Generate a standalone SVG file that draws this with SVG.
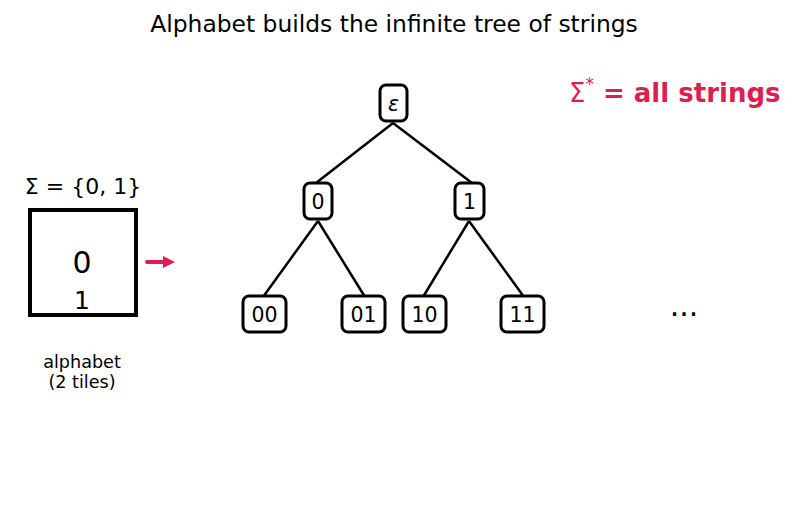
<svg xmlns="http://www.w3.org/2000/svg" width="796" height="510" viewBox="0 0 796 510">
<style>
text{font-family:"DejaVu Sans",sans-serif;fill:#000}
.node rect{fill:#fff;stroke:#000;stroke-width:3}
.node text{font-size:20.5px;text-anchor:middle;dominant-baseline:central}
.edges line{stroke:#000;stroke-width:2.5}
.edges line.arrow{stroke:#dc1f4f;stroke-width:4;stroke-linecap:round}
.red{fill:#dc1f4f}
</style>
<defs>
<marker id="ah" viewBox="0 0 10 10" refX="0" refY="5" markerWidth="3" markerHeight="3" orient="auto" markerUnits="strokeWidth">
<path d="M0,0 L10,5 L0,10 z" fill="#dc1f4f"/>
</marker>
</defs>
<rect width="796" height="510" fill="#fff"/>
<text x="394" y="32" font-size="23.4" text-anchor="middle">Alphabet builds the infinite tree of strings</text>

<g class="edges">
<line x1="393" y1="123" x2="316" y2="183"/>
<line x1="393" y1="123" x2="472" y2="183"/>
<line x1="318" y1="221" x2="263" y2="297"/>
<line x1="318" y1="221" x2="365" y2="297"/>
<line x1="469" y1="221" x2="423" y2="297"/>
<line x1="469" y1="221" x2="524" y2="297"/>
<line class="arrow" x1="147" y1="262" x2="163" y2="262" marker-end="url(#ah)"/>
</g>

<g id="n-eps" class="node"><rect x="380" y="85" width="27" height="36" rx="6"/><text x="393.5" y="104" font-style="italic">ε</text></g>
<g id="n-0" class="node"><rect x="304" y="183" width="28" height="36" rx="6"/><text x="318" y="202">0</text></g>
<g id="n-1" class="node"><rect x="455" y="183" width="29" height="36" rx="6"/><text x="469.5" y="202">1</text></g>
<g id="n-00" class="node"><rect x="243" y="296" width="43" height="36" rx="6"/><text x="264.5" y="315">00</text></g>
<g id="n-01" class="node"><rect x="342" y="296" width="43" height="36" rx="6"/><text x="363.5" y="315">01</text></g>
<g id="n-10" class="node"><rect x="403" y="296" width="43" height="36" rx="6"/><text x="424.5" y="315">10</text></g>
<g id="n-11" class="node"><rect x="501" y="296" width="43" height="36" rx="6"/><text x="522.5" y="315">11</text></g>

<g id="alphabet">
<text x="83" y="194" font-size="22" text-anchor="middle">Σ = {0, 1}</text>
<rect x="30" y="210" width="106" height="105" fill="#fff" stroke="#000" stroke-width="4"/>
<text x="82" y="273" font-size="30" text-anchor="middle">0</text>
<text x="82" y="309" font-size="25" text-anchor="middle">1</text>
<text x="82" y="368" font-size="17.6" text-anchor="middle">alphabet</text>
<text x="82" y="388" font-size="17.6" text-anchor="middle">(2 tiles)</text>
</g>

<g id="sigma-star">
<text x="569" y="102" font-size="26" class="red">Σ<tspan font-size="17" dy="-12">*</tspan><tspan dy="12" font-weight="bold"> = all strings</tspan></text>
</g>
<text x="684" y="316" font-size="30" text-anchor="middle">...</text>
</svg>
